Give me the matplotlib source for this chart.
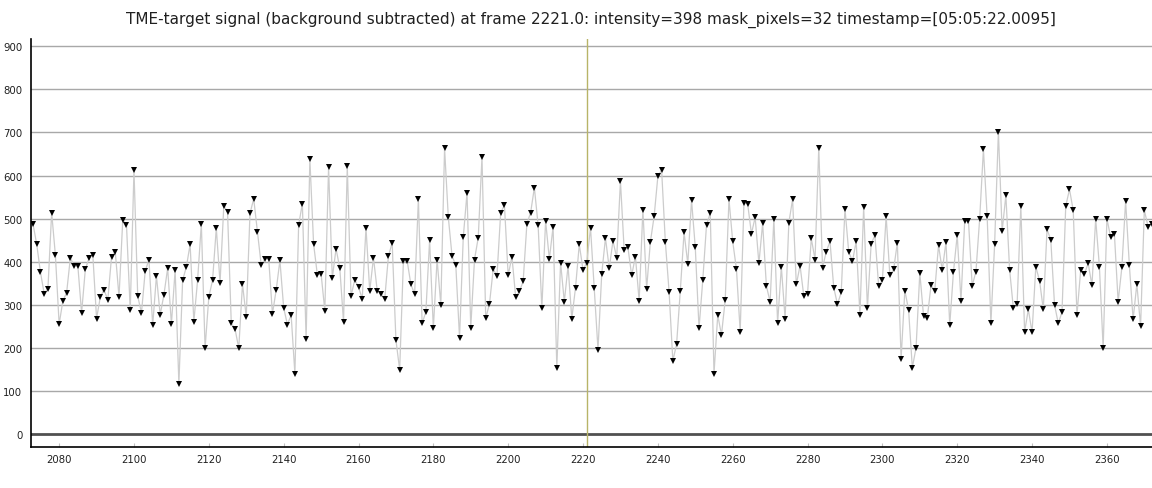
import matplotlib
matplotlib.use("Agg")
import matplotlib.pyplot as plt
import numpy as np

first_frame = 2073
intensity = [
    488, 441, 376, 326, 337, 514, 415, 255, 309, 328,   # 2073-2082
    409, 390, 390, 281, 382, 409, 416, 268, 318, 335,   # 2083-2092
    311, 411, 423, 318, 497, 485, 287, 613, 320, 281,   # 2093-2102
    378, 405, 252, 367, 277, 323, 385, 255, 381, 116,   # 2103-2112
    357, 388, 440, 261, 357, 488, 199, 318, 357, 478,   # 2113-2122
    351, 529, 516, 257, 244, 199, 348, 272, 512, 546,   # 2123-2132
    470, 392, 407, 407, 279, 334, 403, 293, 254, 276,   # 2133-2142
    140, 485, 535, 220, 638, 441, 370, 372, 286, 619,   # 2143-2152
    362, 430, 385, 260, 622, 320, 358, 341, 314, 479,   # 2153-2162
    332, 409, 333, 326, 313, 413, 444, 218, 149, 401,   # 2163-2172
    402, 347, 325, 545, 257, 283, 450, 245, 405, 299,   # 2173-2182
    663, 503, 413, 392, 223, 457, 560, 247, 405, 456,   # 2183-2192
    643, 269, 302, 383, 367, 514, 531, 368, 412, 318,   # 2193-2202
    331, 354, 488, 514, 572, 485, 292, 495, 406, 481,   # 2203-2212
    154, 398, 307, 390, 268, 340, 440, 381, 398, 479,   # 2213-2222
    339, 196, 372, 455, 385, 448, 409, 587, 426, 433,   # 2223-2232
    368, 412, 309, 521, 337, 446, 505, 598, 613, 446,   # 2233-2242
    330, 170, 208, 333, 468, 395, 543, 433, 245, 357,   # 2243-2252
    485, 513, 140, 276, 230, 311, 545, 447, 383, 237,   # 2253-2262
    536, 534, 465, 503, 396, 489, 344, 306, 500, 257,   # 2263-2272
    388, 268, 490, 545, 347, 391, 320, 326, 454, 405,   # 2273-2282
    665, 386, 423, 447, 340, 301, 329, 523, 423, 401,   # 2283-2292
    447, 277, 527, 292, 442, 461, 344, 357, 506, 368,   # 2293-2302
    382, 444, 175, 333, 288, 154, 200, 374, 274, 270,   # 2303-2312
    345, 333, 438, 380, 446, 253, 377, 462, 309, 495,   # 2313-2322
    495, 344, 377, 500, 661, 505, 257, 442, 702, 471,   # 2323-2332
    554, 381, 292, 301, 529, 237, 289, 236, 388, 356,   # 2333-2342
    289, 475, 451, 300, 257, 283, 529, 568, 519, 277,   # 2343-2352
    381, 372, 396, 345, 499, 388, 199, 500, 457, 465,   # 2353-2362
    307, 387, 541, 392, 266, 348, 250, 520, 481, 488,   # 2363-2372
]
frames = np.arange(first_frame, first_frame + len(intensity))
current_frame = 2221
y_ticks = [0, 100, 200, 300, 400, 500, 600, 700, 800, 900]
x_ticks = [2080, 2100, 2120, 2140, 2160, 2180, 2200, 2220, 2240, 2260,
           2280, 2300, 2320, 2340, 2360]
title = ("TME-target signal (background subtracted) at frame 2221.0: "
         "intensity=398 mask_pixels=32 timestamp=[05:05:22.0095]")

plt.rcParams['font.family'] = ['DejaVu Sans']
fig = plt.figure(figsize=(11.52, 4.89), dpi=100)
fig.patch.set_facecolor('white')
ax = fig.add_axes([30.7 / 1152, (489 - 448.3) / 489, 1 - 30.7 / 1152, (448.3 - 40) / 489])

for yv in y_ticks:
    if yv == 0:
        ax.axhline(yv, color='#505050', lw=2.0, zorder=1)
    else:
        ax.axhline(yv, color='#a8a8a8', lw=1.0, zorder=1)

ax.axvline(current_frame, color='#b8b468', lw=1.0, zorder=2)

ax.plot(frames, intensity, color='#cccccc', lw=0.9, zorder=3)
ax.plot(frames, intensity, linestyle='none', marker='v', markersize=5,
        color='black', markeredgewidth=0, zorder=4)

ax.set_xlim(2072.4, 2372.05)
ax.set_ylim(-31, 917)
ax.set_yticks(y_ticks)
ax.set_xticks(x_ticks)
ax.tick_params(axis='x', direction='in', length=3, color='#c0c0c0',
               labelsize=7.3, pad=5, labelcolor='#202020')
ax.tick_params(axis='y', length=0, labelsize=7.3, pad=6, labelcolor='#202020')
for s in ['top', 'right']:
    ax.spines[s].set_visible(False)
ax.spines['left'].set_color('black')
ax.spines['bottom'].set_color('black')
ax.spines['left'].set_linewidth(1.2)
ax.spines['bottom'].set_linewidth(1.2)

fig.text((30.7 + 1152) / 2 / 1152, 1 - 20 / 489, title, ha='center', va='center',
         fontsize=11, color='#202020')

fig.savefig('out.png', dpi=100, facecolor='white')
